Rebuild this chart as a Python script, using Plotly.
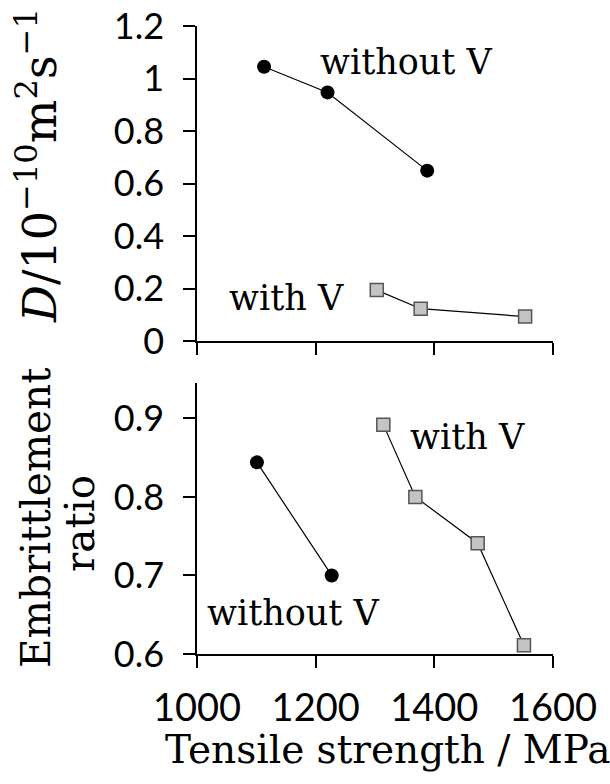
import plotly.graph_objects as go

# ---- data ----
ts_noV_D = [1113, 1220, 1388]
D_noV = [1.045, 0.947, 0.649]
ts_V_D = [1303, 1377, 1553]
D_V = [0.194, 0.123, 0.093]

ts_noV_E = [1101, 1227]
E_noV = [0.844, 0.700]
ts_V_E = [1314, 1368, 1473, 1551]
E_V = [0.892, 0.800, 0.741, 0.611]

x_ticks = [1000, 1200, 1400, 1600]
x_labels = ["1000", "1200", "1400", "1600"]
yD_ticks = [0, 0.2, 0.4, 0.6, 0.8, 1.0, 1.2]
yD_labels = ["0", "0.2", "0.4", "0.6", "0.8", "1", "1.2"]
yE_ticks = [0.6, 0.7, 0.8, 0.9]
yE_labels = ["0.6", "0.7", "0.8", "0.9"]

W, H = 610, 784
L, R, T, B = 197, 57, 26, 130
PW, PH = W - L - R, H - T - B

def px_x(p):
    return (p - L) / PW

def px_y(p):
    return (H - B - p) / PH

SERIF = "DejaVu Serif"
SANS = "Lato"
YTICKFONT = dict(family=SANS, size=36, color="black")
XTICKFONT = dict(family=SANS, size=38, color="black")

circle = dict(symbol="circle", size=14, color="black", line=dict(width=0))
square = dict(symbol="square", size=13, color="#c4c4c4", line=dict(color="#555555", width=1.5))
line = dict(color="black", width=1.2)

fig = go.Figure()
fig.add_trace(go.Scatter(x=ts_noV_D, y=D_noV, mode="lines+markers", marker=circle, line=line,
                         xaxis="x", yaxis="y", showlegend=False))
fig.add_trace(go.Scatter(x=ts_V_D, y=D_V, mode="lines+markers", marker=square, line=line,
                         xaxis="x", yaxis="y", showlegend=False))
fig.add_trace(go.Scatter(x=ts_noV_E, y=E_noV, mode="lines+markers", marker=circle, line=line,
                         xaxis="x2", yaxis="y2", showlegend=False))
fig.add_trace(go.Scatter(x=ts_V_E, y=E_V, mode="lines+markers", marker=square, line=line,
                         xaxis="x2", yaxis="y2", showlegend=False))

def ax(**kw):
    d = dict(showline=True, linecolor="black", linewidth=1.5, ticks="outside",
             ticklen=12, tickwidth=1.5, tickcolor="black", showgrid=False,
             zeroline=False, tickmode="array", automargin=False)
    d.update(kw)
    return d

top_dom = [px_y(341), 1.0]
bot_dom = [0.0, px_y(383)]

fig.update_layout(
    template="none",
    width=W, height=H,
    margin=dict(l=L, r=R, t=T, b=B, autoexpand=False),
    font=dict(family=SANS, size=32, color="black"),
    paper_bgcolor="white", plot_bgcolor="white",
    xaxis=ax(domain=[0, 1], anchor="y", range=[1000, 1600], tickvals=x_ticks,
             showticklabels=False),
    yaxis=ax(domain=top_dom, anchor="x", range=[0, 1.2], tickvals=yD_ticks,
             ticktext=yD_labels, ticklabelstandoff=12, tickfont=YTICKFONT),
    xaxis2=ax(domain=[0, 1], anchor="y2", range=[1000, 1600], tickvals=x_ticks,
              ticktext=x_labels, ticklabelstandoff=8, tickfont=XTICKFONT),
    yaxis2=ax(domain=bot_dom, anchor="x2", range=[0.6, 0.945], tickvals=yE_ticks,
              ticktext=yE_labels, ticklabelstandoff=12, tickfont=YTICKFONT),
)

ann_font = dict(family=SERIF, size=35, color="black")
fig.add_annotation(x=1204, y=1.064, xref="x", yref="y", text="without V", showarrow=False,
                   xanchor="left", yanchor="middle", font=ann_font)
fig.add_annotation(x=1050, y=0.164, xref="x", yref="y", text="with V", showarrow=False,
                   xanchor="left", yanchor="middle", font=ann_font)
fig.add_annotation(x=1356, y=0.876, xref="x2", yref="y2", text="with V", showarrow=False,
                   xanchor="left", yanchor="middle", font=ann_font)
fig.add_annotation(x=1013, y=0.652, xref="x2", yref="y2", text="without V", showarrow=False,
                   xanchor="left", yanchor="middle", font=ann_font)

fig.add_annotation(x=px_x(37), y=px_y(166), xref="paper", yref="paper",
                   text="<i>D</i>/10<sup>−10</sup>m<sup>2</sup>s<sup>−1</sup>",
                   textangle=-90, showarrow=False, xanchor="center", yanchor="middle",
                   font=dict(family=SERIF, size=46, color="black"))
fig.add_annotation(x=px_x(36), y=px_y(518), xref="paper", yref="paper",
                   text="Embrittlement",
                   textangle=-90, showarrow=False, xanchor="center", yanchor="middle",
                   font=dict(family=SERIF, size=40.5, color="black"))
fig.add_annotation(x=px_x(80), y=px_y(523), xref="paper", yref="paper",
                   text="ratio",
                   textangle=-90, showarrow=False, xanchor="center", yanchor="middle",
                   font=dict(family=SERIF, size=40.5, color="black"))
fig.add_annotation(x=px_x(163), y=px_y(749), xref="paper", yref="paper",
                   text="Tensile strength / MPa", showarrow=False,
                   xanchor="left", yanchor="middle",
                   font=dict(family=SERIF, size=39, color="black"))

fig.write_html("out.html")
